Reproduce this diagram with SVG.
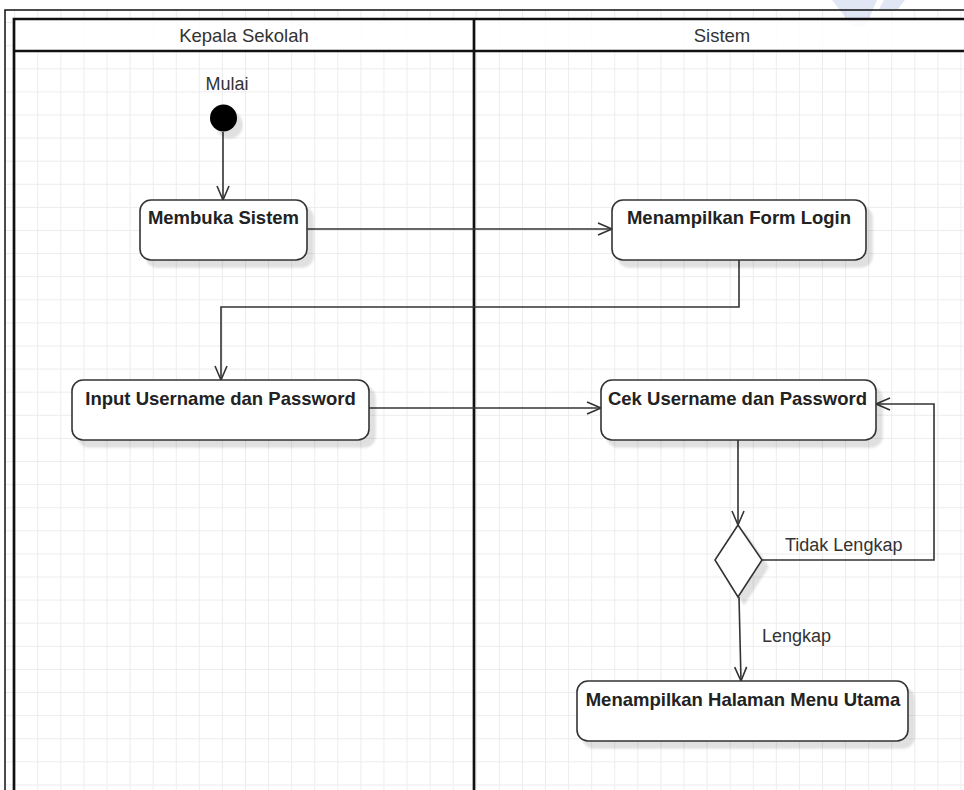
<svg xmlns="http://www.w3.org/2000/svg" width="964" height="790" viewBox="0 0 964 790">
  <style>
    .lane { fill: none; stroke: #111; stroke-width: 2.7; }
    .frame { fill: none; stroke: #111; stroke-width: 1.5; }
    .head { font-family: "Liberation Sans", Arial, sans-serif; font-size: 18.5px; fill: #333; text-anchor: middle; }
    .act { fill: #fff; stroke: #333; stroke-width: 1.6; }
    .actText { font-family: "Liberation Sans", Arial, sans-serif; font-size: 18.5px; font-weight: bold; fill: #222; text-anchor: middle; }
    .lbl { font-family: "Liberation Sans", Arial, sans-serif; font-size: 18px; fill: #333; }
    .edge { fill: none; stroke: #333; stroke-width: 1.6; marker-end: url(#open); }
  </style>
  <defs>
    <pattern id="grid" patternUnits="userSpaceOnUse" x="14.2" y="22.1" width="23.08" height="23.1">
      <path d="M0 0.5 H23.08 M0.5 0 V23.1" stroke="#ececec" stroke-width="1" fill="none"/>
    </pattern>
    <filter id="shadow" x="-10%" y="-10%" width="130%" height="140%">
      <feDropShadow dx="6" dy="7" stdDeviation="1.2" flood-color="#000" flood-opacity="0.12"/>
    </filter>
    <marker id="open" markerUnits="userSpaceOnUse" markerWidth="18" markerHeight="16" refX="15" refY="7" orient="auto">
      <path d="M1 1 L15 7 L1 13" fill="none" stroke="#333" stroke-width="1.6"/>
    </marker>
  </defs>

  <!-- page background and grid -->
  <rect x="0" y="0" width="964" height="790" fill="#fff"/>
  <rect x="5" y="10" width="959" height="780" fill="url(#grid)"/>

  <!-- faint mark at the top edge, under the pool lines -->
  <g id="mark" fill="#c9d3ec" opacity="0.55">
    <polygon points="832,0 877,0 866,26 852,26"/>
    <polygon points="884,0 905,0 898,9 879,9"/>
  </g>

  <!-- swimlane pool -->
  <g id="pool">
    <rect x="14" y="19" width="960" height="32" fill="#fff" fill-opacity="0.85"/>
    <path class="frame" d="M5 800 V10 H970"/>
    <path class="lane" d="M14 800 V19 H970 M14 51 H970 M474 19 V800"/>
    <text class="head" x="244" y="42">Kepala Sekolah</text>
    <text class="head" x="722" y="42">Sistem</text>
  </g>

  <!-- connectors -->
  <g id="connectors">
    <path class="edge" d="M223 132 V200"/>
    <path class="edge" d="M307 229 H612"/>
    <path class="edge" d="M739 260 V307 H221 V380"/>
    <path class="edge" d="M369 408 H601"/>
    <path class="edge" d="M738 440 V525"/>
    <path class="edge" d="M762 560 H934 V404 H876"/>
    <path class="edge" d="M739 597 L741 681"/>
    <text class="lbl" x="785" y="551">Tidak Lengkap</text>
    <text class="lbl" x="762" y="642">Lengkap</text>
  </g>

  <!-- start -->
  <g id="start">
    <circle cx="223.5" cy="118" r="13.5" fill="#000" filter="url(#shadow)"/>
    <text class="lbl" x="227" y="90" text-anchor="middle">Mulai</text>
  </g>

  <g id="membuka-sistem">
    <rect class="act" x="140" y="200" width="167" height="60" rx="11" filter="url(#shadow)"/>
    <text class="actText" x="223.5" y="224">Membuka Sistem</text>
  </g>

  <g id="form-login">
    <rect class="act" x="612" y="200" width="254" height="60" rx="11" filter="url(#shadow)"/>
    <text class="actText" x="739" y="224">Menampilkan Form Login</text>
  </g>

  <g id="input-login">
    <rect class="act" x="72" y="380" width="297" height="60" rx="11" filter="url(#shadow)"/>
    <text class="actText" x="220.5" y="405">Input Username dan Password</text>
  </g>

  <g id="cek-login">
    <rect class="act" x="601" y="380" width="275" height="60" rx="11" filter="url(#shadow)"/>
    <text class="actText" x="737.5" y="405">Cek Username dan Password</text>
  </g>

  <g id="decision">
    <polygon class="act" points="738,525 762,560 738,597 715,560" filter="url(#shadow)"/>
  </g>

  <g id="menu-utama">
    <rect class="act" x="577" y="681" width="331" height="60" rx="11" filter="url(#shadow)"/>
    <text class="actText" x="743" y="706">Menampilkan Halaman Menu Utama</text>
  </g>
</svg>
